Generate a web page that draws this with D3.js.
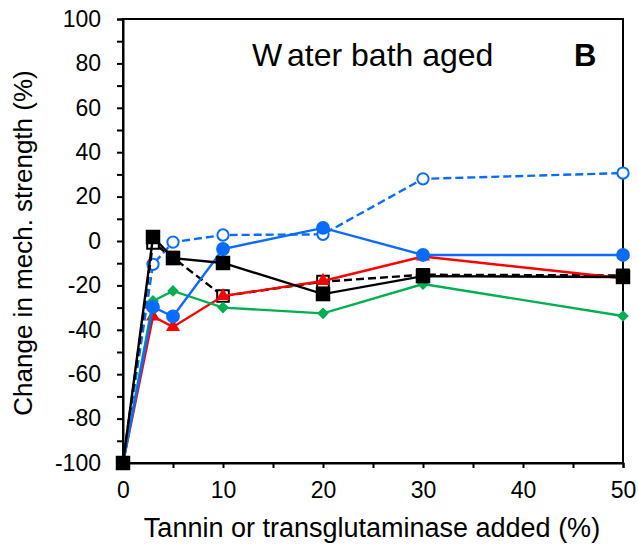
<!DOCTYPE html>
<html>
<head>
<meta charset="utf-8">
<script src="https://cdn.jsdelivr.net/npm/d3@7/dist/d3.min.js"></script>
<style>
  html, body { margin: 0; padding: 0; background: #fff; }
  svg { display: block; font-family: "Liberation Sans", Arial, sans-serif; }
</style>
</head>
<body>
<svg id="chart" width="638" height="547"></svg>
<script>
// Additive amount (%) and change in mechanical strength (%) per treatment
const addedLevels = [0, 3, 5, 10, 20, 30, 50];
const openCircleVals = [-100, -10.5, -0.5, 2.7, 3, 28, 30.6];
const filledCircleVals = [-100, -29.7, -34, -3.6, 5.9, -6.3, -6.3];
const triangleVals = [-100, -34, -38.7, -24.8, -18, -7, -16.8];
const diamondVals = [-100, -27, -22.5, -30, -32.6, -19.4, -33.8];
const openSquareVals = [-100, -0.9, -7.5, -24.8, -18.3, -15.2, -15.5];
const filledSquareVals = [-100, 1.8, -7.7, -9.9, -23.9, -15.8, -16.2];

const xTicks = [0, 10, 20, 30, 40, 50];
const yTicks = [-100, -80, -60, -40, -20, 0, 20, 40, 60, 80, 100];

const titleText = "Water bath aged";
const panelLabel = "B";
const xTitle = "Tannin or transglutaminase added (%)";
const yTitle = "Change in mech. strength (%)";

const svg = d3.select("#chart");
const plotLeft = 123, plotRight = 623, plotTop = 19, plotBottom = 463;
const fontFamily = "Liberation Sans, Arial, sans-serif";

const x = d3.scaleLinear().domain([0, 50]).range([plotLeft, plotRight]);
const y = d3.scaleLinear().domain([-100, 100]).range([plotBottom, plotTop]);

// frame
svg.append("rect")
  .attr("x", plotLeft).attr("y", plotTop)
  .attr("width", plotRight - plotLeft).attr("height", plotBottom - plotTop)
  .attr("fill", "none").attr("stroke", "#000").attr("stroke-width", 2);

// x axis: minor ticks every 5, labels every 10
const xAxis = svg.append("g").attr("transform", `translate(0,${plotBottom})`)
  .call(d3.axisBottom(x).tickValues(d3.range(0, 51, 5)).tickSize(5)
    .tickFormat(d => xTicks.includes(d) ? d : ""));
xAxis.select(".domain").attr("stroke-width", 2);
xAxis.selectAll(".tick line").attr("stroke-width", 2);
xAxis.selectAll(".tick text")
  .attr("font-size", 23).attr("fill", "#000")
  .attr("font-family", fontFamily)
  .attr("y", 19);

// y axis: ticks every 10, labels every 20
const yAxis = svg.append("g").attr("transform", `translate(${plotLeft},0)`)
  .call(d3.axisLeft(y).tickValues(d3.range(-100, 101, 10)).tickSize(6)
    .tickFormat(d => yTicks.includes(d) ? d : ""));
yAxis.select(".domain").attr("stroke-width", 2);
yAxis.selectAll(".tick line").attr("stroke-width", 2);
yAxis.selectAll(".tick text")
  .attr("font-size", 23).attr("fill", "#000")
  .attr("font-family", fontFamily)
  .attr("x", -22);

// axis titles
svg.append("text")
  .attr("x", 372).attr("y", 537)
  .attr("text-anchor", "middle").attr("font-size", 27)
  .text(xTitle);
svg.append("text")
  .attr("transform", `translate(32,${(plotTop + plotBottom) / 2 + 2}) rotate(-90)`)
  .attr("text-anchor", "middle").attr("font-size", 26)
  .text(yTitle);

// in-plot titles
const title = svg.append("text")
  .attr("x", 252).attr("y", 66)
  .attr("font-size", 32);
title.append("tspan").text(titleText.slice(0, 1));
title.append("tspan").attr("dx", 6).text(titleText.slice(1));
svg.append("text")
  .attr("x", 574).attr("y", 66)
  .attr("font-size", 31).attr("font-weight", "bold")
  .text(panelLabel);

const blue = "#0a6cff", red = "#ff0000", green = "#00b050", black = "#000";

function seriesData(vals) {
  return addedLevels.map((a, i) => ({ a, v: vals[i] }));
}
const line = d3.line().x(d => x(d.a)).y(d => y(d.v));

function drawSeries(vals, opts) {
  const data = seriesData(vals);
  const g = svg.append("g");
  g.append("path").datum(data)
    .attr("d", line).attr("fill", "none")
    .attr("stroke", opts.color).attr("stroke-width", 2.4)
    .attr("stroke-dasharray", opts.dash || null);
  const sym = d3.symbol().type(opts.symbol).size(opts.size);
  g.selectAll("path.m").data(data).enter().append("path")
    .attr("class", "m")
    .attr("transform", d => `translate(${x(d.a)},${y(d.v)})` + (opts.rotate ? ` rotate(${opts.rotate})` : ""))
    .attr("d", sym)
    .attr("fill", opts.open ? "#fff" : opts.color)
    .attr("stroke", opts.open ? opts.color : "none")
    .attr("stroke-width", opts.open ? 2 : 0);
}

drawSeries(openCircleVals, { color: blue, dash: "8,4", symbol: d3.symbolCircle, size: 100, open: true });
drawSeries(openSquareVals, { color: black, dash: "8,4", symbol: d3.symbolSquare, size: 135, open: true });
drawSeries(triangleVals, { color: red, symbol: d3.symbolTriangle, size: 85 });
drawSeries(diamondVals, { color: green, symbol: d3.symbolSquare, size: 68, rotate: 45 });
drawSeries(filledCircleVals, { color: blue, symbol: d3.symbolCircle, size: 150 });
drawSeries(filledSquareVals, { color: black, symbol: d3.symbolSquare, size: 210 });
</script>
</body>
</html>
